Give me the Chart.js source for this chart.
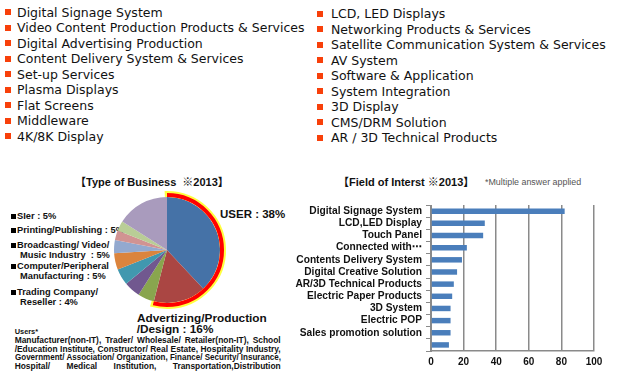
<!DOCTYPE html>
<html>
<head>
<meta charset="utf-8">
<script src="https://cdn.jsdelivr.net/npm/chart.js@4.4.0/dist/chart.umd.min.js"></script>
<style>
  body {
    margin: 0;
    width: 619px;
    height: 384px;
    background: #fff;
    position: relative;
    overflow: hidden;
    font-family: "Liberation Sans", "Noto Sans CJK JP", sans-serif;
    color: #111;
  }
  .list {
    position: absolute;
    margin: 0;
    padding: 0;
    list-style: none;
    font-family: "DejaVu Sans", sans-serif;
    font-size: 12.5px;
    line-height: 15.5px;
  }
  .list li { position: relative; white-space: nowrap; }
  .list li::before {
    content: "";
    position: absolute;
    top: 4.5px;
    width: 6px;
    height: 6px;
    background: #f8400a;
  }
  #listLeft { left: 17px; top: 4.5px; }
  #listLeft li::before { left: -12px; }
  #listRight { left: 331px; top: 6.3px; }
  #listRight li::before { left: -14px; }

  .t { position: absolute; white-space: nowrap; font-weight: bold; line-height: 1; }
  .pl { font-size: 9.3px; }
  .sq { display: inline-block; width: 5px; height: 5px; background: #000; margin-right: 1px; vertical-align: 0.8px; }
  .title { font-size: 11px; }
  .users { position: absolute; left: 14.7px; font-weight: bold; font-size: 8.4px; line-height: 1;
           white-space: nowrap; transform-origin: 0 0; }
  canvas { position: absolute; }
</style>
</head>
<body>

<ul class="list" id="listLeft"></ul>
<ul class="list" id="listRight"></ul>

<div class="t title" style="left:75px; top:176.5px;">【Type of Business&nbsp; ※2013】</div>
<div class="t title" style="left:338px; top:176.5px;">【Field of Interst ※2013】</div>
<div class="t" style="left:485px; top:177.5px; font-size:8.9px; font-weight:normal; color:#555;">*Multiple answer applied</div>

<div class="t pl" style="left:11px; top:212.3px;"><span class="sq"></span>SIer : 5%</div>
<div class="t pl" style="left:11px; top:226.3px;"><span class="sq"></span>Printing/Publishing : 5%</div>
<div class="t pl" style="left:11px; top:241.3px;"><span class="sq"></span>Broadcasting/ Video/</div>
<div class="t pl" style="left:20px; top:250.6px;">Music Industry&nbsp; : 5%</div>
<div class="t pl" style="left:11px; top:262.3px;"><span class="sq"></span>Computer/Peripheral</div>
<div class="t pl" style="left:20px; top:271.6px;">Manufacturing : 5%</div>
<div class="t pl" style="left:11px; top:288.3px;"><span class="sq"></span>Trading Company/</div>
<div class="t pl" style="left:20px; top:297.6px;">Reseller : 4%</div>

<div class="t" style="left:220px; top:208.6px; font-size:11.5px;">USER : 38%</div>
<div class="t" style="left:137px; top:312.7px; font-size:11.8px;">Advertizing/Production</div>
<div class="t" style="left:136.7px; top:324.4px; font-size:11.8px;">/Design : 16%</div>

<div class="t" style="left:14.7px; top:328px; font-size:7.4px;">Users*</div>
<div class="users" style="top:336.2px;">Manufacturer(non-IT), Trader/ Wholesale/ Retailer(non-IT), School</div>
<div class="users" style="top:344.7px;">/Education Institute, Constructor/ Real Estate, Hospitality Industry,</div>
<div class="users" style="top:353.2px;">Government/ Association/ Organization, Finance/ Security/ Insurance,</div>
<div class="users" style="top:361.7px;">Hospital/ Medical Institution, Transportation,Distribution</div>

<canvas id="pie" width="122" height="122" style="left:106px; top:189px;"></canvas>
<canvas id="bar" width="325" height="185" style="left:290px; top:195px;"></canvas>

<script>
// 出展対象の一覧
const leftItems = [
  "Digital Signage System",
  "Video Content Production Products & Services",
  "Digital Advertising Production",
  "Content Delivery System & Services",
  "Set-up Services",
  "Plasma Displays",
  "Flat Screens",
  "Middleware",
  "4K/8K Display",
];
const rightItems = [
  "LCD, LED Displays",
  "Networking Products & Services",
  "Satellite Communication System & Services",
  "AV System",
  "Software & Application",
  "System Integration",
  "3D Display",
  "CMS/DRM Solution",
  "AR / 3D Technical Products",
];

// 業種（円グラフ）
const businessTypes = [
  "USER", "Advertizing/Production/Design", "SIer", "Printing/Publishing",
  "Broadcasting/Video/Music Industry", "Computer/Peripheral Manufacturing",
  "Trading Company/Reseller", "Other A", "Other B", "Other C",
];
const businessShares = [38, 16, 5, 5, 5, 5, 4, 3, 3, 16];
const businessColors = [
  "#4572a7", "#aa4643", "#89a54e", "#71588f", "#4198af",
  "#db843d", "#93a9cf", "#d19392", "#b9cd96", "#a99bbd",
];
const highlightCount = 2; // USER と Advertizing を強調

// 関心分野（横棒グラフ）
const interestFields = [
  "Digital Signage System",
  "LCD,LED Display",
  "Touch Panel",
  "Connected with⋯",
  "Contents Delivery System",
  "Digital Creative Solution",
  "AR/3D Technical Products",
  "Electric Paper Products",
  "3D System",
  "Electric POP",
  "Sales promotion solution",
  "",
];
const interestValues = [82, 33, 32, 22, 19, 16, 14, 13, 12, 12, 12, 11];
const interestTicks = [0, 20, 40, 60, 80, 100];

// リストを表示する
function fillList(id, items) {
  const ul = document.getElementById(id);
  for (let item of items) {
    const li = document.createElement("li");
    li.textContent = item;
    ul.appendChild(li);
  }
}
fillList("listLeft", leftItems);
fillList("listRight", rightItems);

// 注記の行を両端揃えにする（幅が足りなければ横に縮める）
function justifyLine(el, width) {
  const natural = el.getBoundingClientRect().width;
  const spaces = (el.textContent.match(/ /g) || []).length;
  if (natural > width) {
    el.style.transform = `scaleX(${width / natural})`;
  } else if (spaces > 0) {
    el.style.wordSpacing = (width - natural) / spaces + "px";
  }
}
for (let el of document.querySelectorAll(".users")) {
  justifyLine(el, 266);
}

// 強調する外周の線（赤＋黄色）
const highlightArc = {
  id: "highlightArc",
  afterDatasetsDraw(chart) {
    const arcs = chart.getDatasetMeta(0).data;
    const first = arcs[0];
    const last = arcs[highlightCount - 1];
    const { x, y, outerRadius } = first;
    const ctx = chart.ctx;
    ctx.save();
    ctx.beginPath();
    ctx.strokeStyle = "#ffff40";
    ctx.lineWidth = 6;
    ctx.arc(x, y, outerRadius + 3, first.startAngle - 0.04, last.endAngle + 0.04);
    ctx.stroke();
    ctx.beginPath();
    ctx.strokeStyle = "#ff0000";
    ctx.lineWidth = 4;
    ctx.arc(x, y, outerRadius + 2, first.startAngle, last.endAngle);
    ctx.stroke();
    ctx.restore();
  },
};

new Chart(document.getElementById("pie"), {
  type: "pie",
  data: {
    labels: businessTypes,
    datasets: [{
      data: businessShares,
      backgroundColor: businessColors,
      borderWidth: 0,
    }],
  },
  options: {
    responsive: false,
    animation: false,
    layout: { padding: 8 },
    plugins: { legend: { display: false }, tooltip: { enabled: false } },
  },
  plugins: [highlightArc],
});

const axisGray = "#8a8a8a";
const labelFont = { family: '"Liberation Sans", "DejaVu Sans", sans-serif', weight: "bold" };

new Chart(document.getElementById("bar"), {
  type: "bar",
  data: {
    labels: interestFields,
    datasets: [{
      data: interestValues,
      backgroundColor: "#4a7ebb",
      barPercentage: 0.45,
      categoryPercentage: 1,
    }],
  },
  options: {
    indexAxis: "y",
    responsive: false,
    animation: false,
    layout: { padding: { left: 0, right: 21, top: 10, bottom: 9 } },
    plugins: { legend: { display: false }, tooltip: { enabled: false } },
    scales: {
      x: {
        min: 0,
        max: 100,
        afterFit(scale) { scale.height = 20; },
        afterBuildTicks(scale) { scale.ticks = interestTicks.map((v) => ({ value: v })); },
        grid: { color: axisGray, lineWidth: 1.5, drawTicks: false },
        border: { color: axisGray, width: 1.5 },
        ticks: { padding: 5, color: "#111", font: { ...labelFont, size: 10 } },
      },
      y: {
        afterFit(scale) { scale.width = 141; },
        grid: { drawOnChartArea: false, drawTicks: true, tickLength: 5, color: axisGray },
        border: { color: axisGray, width: 1 },
        ticks: { autoSkip: false, padding: 4, color: "#111", font: { ...labelFont, size: 10.2 } },
      },
    },
  },
});
</script>
</body>
</html>
